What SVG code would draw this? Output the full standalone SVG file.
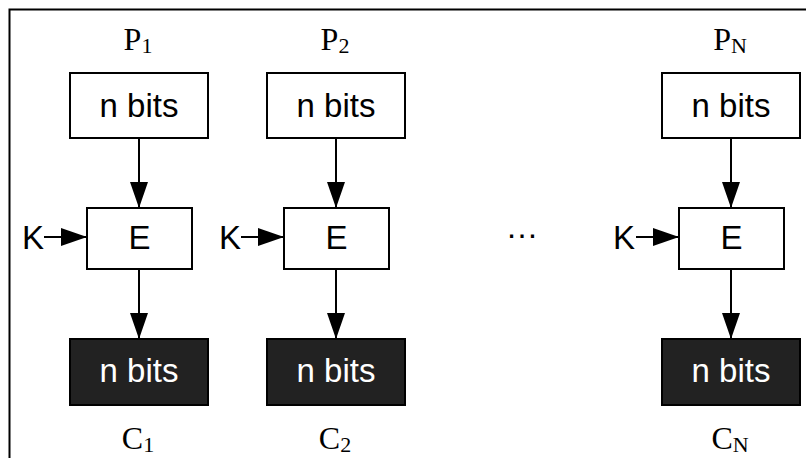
<svg xmlns="http://www.w3.org/2000/svg" width="806" height="458" viewBox="0 0 806 458">
<style>
.box{fill:#fff;stroke:#000;stroke-width:2}
.dark{fill:#222;stroke:#000;stroke-width:2}
.lbl{font-family:"Liberation Sans",Arial,sans-serif;font-size:33px;text-anchor:middle;fill:#000}
.lblw{font-family:"Liberation Sans",Arial,sans-serif;font-size:33px;text-anchor:middle;fill:#fff}
.big{font-family:"Liberation Sans",Arial,sans-serif;font-size:33px;text-anchor:middle;fill:#000}
.ser{font-family:"Liberation Serif","Times New Roman",serif;font-size:32px;text-anchor:middle;fill:#000}
.sub{font-size:22px}
.ln{stroke:#000;stroke-width:2;fill:none}
</style>
<defs>
<marker id="ah" markerUnits="userSpaceOnUse" markerWidth="27" markerHeight="18" refX="26" refY="9" orient="auto" viewBox="0 0 27 18">
<path d="M0,0 L26,9 L0,18 z" fill="#000"/>
</marker>
</defs>
<path d="M9.5,458 V9.5 H806" fill="none" stroke="#000" stroke-width="2"/>

<g id="col1">
<text class="ser" x="138" y="50">P<tspan class="sub" dy="3">1</tspan></text>
<g id="p1"><rect class="box" x="70" y="73" width="138" height="65"/><text class="lbl" x="139" y="117">n bits</text></g>
<g id="e1"><rect class="box" x="87" y="208" width="105" height="61"/><text class="big" x="139.5" y="249">E</text></g>
<text class="big" x="33" y="249">K</text>
<g id="c1"><rect class="dark" x="70" y="339" width="138" height="66"/><text class="lblw" x="139" y="382">n bits</text></g>
<text class="ser" x="138" y="449">C<tspan class="sub" dy="3">1</tspan></text>
</g>

<g id="col2">
<text class="ser" x="335" y="50">P<tspan class="sub" dy="3">2</tspan></text>
<g id="p2"><rect class="box" x="267" y="73" width="138" height="65"/><text class="lbl" x="336" y="117">n bits</text></g>
<g id="e2"><rect class="box" x="284" y="208" width="105" height="61"/><text class="big" x="336.5" y="249">E</text></g>
<text class="big" x="230" y="249">K</text>
<g id="c2"><rect class="dark" x="267" y="339" width="138" height="66"/><text class="lblw" x="336" y="382">n bits</text></g>
<text class="ser" x="335" y="449">C<tspan class="sub" dy="3">2</tspan></text>
</g>

<text class="big" x="522" y="238">…</text>

<g id="colN">
<text class="ser" x="730" y="50">P<tspan class="sub" dy="3">N</tspan></text>
<g id="pN"><rect class="box" x="662" y="73" width="138" height="65"/><text class="lbl" x="731" y="117">n bits</text></g>
<g id="eN"><rect class="box" x="679" y="208" width="105" height="61"/><text class="big" x="731.5" y="249">E</text></g>
<text class="big" x="624" y="249">K</text>
<g id="cN"><rect class="dark" x="662" y="339" width="138" height="66"/><text class="lblw" x="731" y="382">n bits</text></g>
<text class="ser" x="730" y="449">C<tspan class="sub" dy="3">N</tspan></text>
</g>

<g id="connectors">
<line class="ln" x1="139" y1="138" x2="139" y2="208" marker-end="url(#ah)"/>
<line class="ln" x1="139" y1="269" x2="139" y2="339" marker-end="url(#ah)"/>
<line class="ln" x1="44" y1="237" x2="87" y2="237" marker-end="url(#ah)"/>
<line class="ln" x1="336" y1="138" x2="336" y2="208" marker-end="url(#ah)"/>
<line class="ln" x1="336" y1="269" x2="336" y2="339" marker-end="url(#ah)"/>
<line class="ln" x1="241" y1="237" x2="284" y2="237" marker-end="url(#ah)"/>
<line class="ln" x1="731" y1="138" x2="731" y2="208" marker-end="url(#ah)"/>
<line class="ln" x1="731" y1="269" x2="731" y2="339" marker-end="url(#ah)"/>
<line class="ln" x1="636" y1="237" x2="679" y2="237" marker-end="url(#ah)"/>
</g>
</svg>
